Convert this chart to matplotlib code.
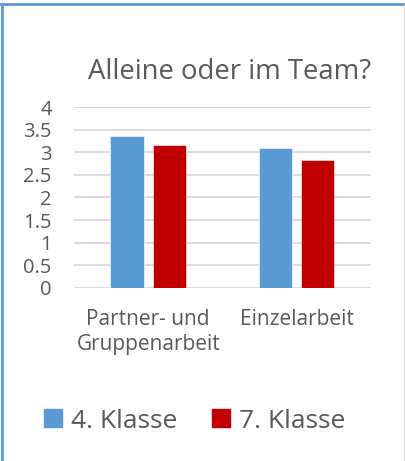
#!/usr/bin/env python3
"""Grouped bar chart 'Alleine oder im Team?' -> out.png."""

import matplotlib

matplotlib.use("Agg")
import matplotlib.pyplot as plt  # noqa: E402
from matplotlib.lines import Line2D  # noqa: E402
import numpy as np  # noqa: E402

plt.rcParams["font.family"] = ["Open Sans", "DejaVu Sans"]

TITLE = "Alleine oder im Team?"
CATEGORIES = ["Partner- und\nGruppenarbeit", "Einzelarbeit"]
SERIES = ["4. Klasse", "7. Klasse"]
KLASSE_4 = [3.36, 3.09]
KLASSE_7 = [3.17, 2.83]
YTICKS = [0, 0.5, 1, 1.5, 2, 2.5, 3, 3.5, 4]
YTICK_LABELS = ["0", "0.5", "1", "1.5", "2", "2.5", "3", "3.5", "4"]

COLORS = ["#5B9BD5", "#C00000"]
TXT = "#595959"
GRID = "#D9D9D9"
W, H = 405, 461


def main():
    fig = plt.figure(figsize=(W / 100, H / 100), dpi=100)
    ax = fig.add_axes([74 / W, 1 - 287.7 / H, 296.7 / W, 180.4 / H])

    x = np.arange(len(CATEGORIES))
    bw, off = 0.225, 0.142
    for vals, c, lab, dx in zip((KLASSE_4, KLASSE_7), COLORS, SERIES, (-off, off)):
        ax.bar(x + dx, vals, bw, color=c, label=lab, zorder=3,
               edgecolor="white", linewidth=0.4)

    ax.set_xlim(-0.5, len(CATEGORIES) - 0.5)
    ax.set_ylim(0, 4)
    ax.set_yticks(YTICKS, YTICK_LABELS)
    ax.set_xticks(x, CATEGORIES)
    for y in YTICKS:
        ax.axhline(y, color=GRID, lw=1.3, zorder=1)
    for s in ax.spines.values():
        s.set_visible(False)
    ax.tick_params(axis="y", length=0, pad=16, labelsize=14.5, labelcolor=TXT)
    ax.tick_params(axis="x", length=0, pad=15, labelsize=15, labelcolor=TXT)
    for t in ax.get_xticklabels():
        t.set_linespacing(1.3)

    fig.text(230 / W, 1 - 72 / H, TITLE, ha="center", va="center",
             fontsize=19.8, color=TXT)

    handles = [plt.Rectangle((0, 0), 1, 1, color=c) for c in COLORS]
    fig.legend(handles, SERIES, loc="center", bbox_to_anchor=(195 / W, 1 - 421 / H),
               ncol=2, frameon=False, fontsize=19, labelcolor=TXT,
               handlelength=0.68, handleheight=0.68, handletextpad=0.35,
               columnspacing=1.3, borderpad=0)

    # chart frame
    fig.add_artist(Line2D([2 / W, 2 / W], [0, 1 - 4 / H], color="#5B9BD5", lw=2,
                          transform=fig.transFigure))
    fig.add_artist(Line2D([1 / W, 1], [1 - 4.5 / H, 1 - 4.5 / H], color="#5B9BD5",
                          lw=2, transform=fig.transFigure))
    fig.add_artist(Line2D([403.5 / W, 403.5 / W], [0, 1 - 5 / H], color="#DDDDDD",
                          lw=1, transform=fig.transFigure))

    fig.savefig("out.png", dpi=100)
    plt.close(fig)


if __name__ == "__main__":
    main()
